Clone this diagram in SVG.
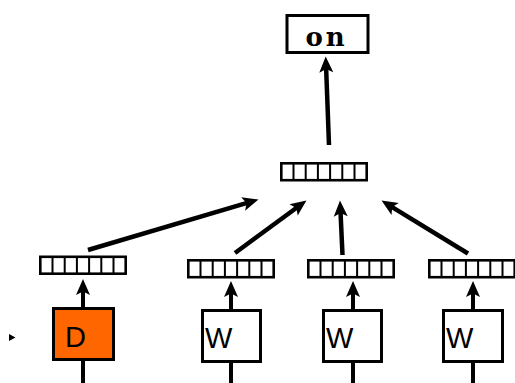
<svg xmlns="http://www.w3.org/2000/svg" xmlns:xlink="http://www.w3.org/1999/xlink" width="515" height="383" viewBox="0 0 515 383">
  <style>
    .box { fill: #ffffff; stroke: #000000; stroke-width: 3; }
    .box.doc { fill: #ff6600; }
    .cell { fill: #ffffff; stroke: #000000; stroke-width: 2.6; }
    .div { stroke: #000000; stroke-width: 2; }
    .edge { fill: none; stroke: #000000; stroke-width: 4.5; marker-end: url(#head); }
    .stub { fill: none; stroke: #000000; stroke-width: 4; }
    .lbl { font-family: "Liberation Sans", Arial, sans-serif; font-size: 29px; fill: #000000; }
    .out { font-family: "DejaVu Serif", serif; font-weight: bold; font-size: 26px; letter-spacing: 3px; fill: #000000; }
  </style>
  <defs>
    <marker id="head" markerUnits="userSpaceOnUse" markerWidth="18" markerHeight="16" viewBox="-1 -8 18 16" refX="5" refY="0" orient="auto">
      <path d="M0,-7 L16,0 L0,7 L3.5,0 Z" fill="#000000"/>
    </marker>
    <!-- seven-cell embedding vector -->
    <g id="vec">
      <rect class="cell" x="1.3" y="1.3" width="85.4" height="16.9"/>
      <line class="div" x1="13.5" y1="1.3" x2="13.5" y2="18.2"/>
      <line class="div" x1="25.7" y1="1.3" x2="25.7" y2="18.2"/>
      <line class="div" x1="37.9" y1="1.3" x2="37.9" y2="18.2"/>
      <line class="div" x1="50.1" y1="1.3" x2="50.1" y2="18.2"/>
      <line class="div" x1="62.3" y1="1.3" x2="62.3" y2="18.2"/>
      <line class="div" x1="74.5" y1="1.3" x2="74.5" y2="18.2"/>
    </g>
  </defs>

  <!-- connectors -->
  <g id="connectors">
    <line class="edge" x1="329" y1="145" x2="326.1" y2="67.5"/>
    <line class="edge" x1="88" y1="250" x2="247.95" y2="202.6"/>
    <line class="edge" x1="235" y1="253" x2="297.6" y2="207"/>
    <line class="edge" x1="342.5" y1="255" x2="340.5" y2="211.5"/>
    <line class="edge" x1="468" y1="253.5" x2="390.9" y2="206.3"/>
    <line class="edge" style="stroke-width:4" x1="83" y1="307" x2="83" y2="290"/>
    <line class="edge" style="stroke-width:4" x1="231" y1="309" x2="231" y2="292"/>
    <line class="edge" style="stroke-width:4" x1="353" y1="309" x2="353" y2="292"/>
    <line class="edge" style="stroke-width:4" x1="473" y1="309" x2="473" y2="292"/>
    <line class="stub" x1="83" y1="361" x2="83" y2="383"/>
    <line class="stub" x1="231" y1="363" x2="231" y2="383"/>
    <line class="stub" x1="353" y1="363" x2="353" y2="383"/>
    <line class="stub" x1="473" y1="363" x2="473" y2="383"/>
  </g>

  <!-- output word -->
  <g id="output">
    <rect class="box" x="287" y="15.5" width="81" height="37"/>
    <text class="out" x="326.5" y="46" text-anchor="middle">on</text>
  </g>

  <!-- combined vector -->
  <g id="combined">
    <use xlink:href="#vec" x="280" y="162"/>
  </g>

  <!-- paragraph vector -->
  <g id="docvec">
    <use xlink:href="#vec" x="39" y="255.5"/>
  </g>
  <g id="docbox">
    <rect class="box doc" x="53.5" y="308.5" width="60" height="51"/>
    <text class="lbl" x="65" y="347">D</text>
  </g>
  <polygon id="pointer" points="9,334 15.5,337.5 9,341" fill="#000000"/>

  <!-- word vectors -->
  <g id="wvec1">
    <use xlink:href="#vec" x="187" y="259"/>
  </g>
  <g id="wbox1">
    <rect class="box" x="202.5" y="310.5" width="58" height="51"/>
    <text class="lbl" x="205" y="348">W</text>
  </g>

  <g id="wvec2">
    <use xlink:href="#vec" x="307" y="259"/>
  </g>
  <g id="wbox2">
    <rect class="box" x="323.5" y="310.5" width="58" height="51"/>
    <text class="lbl" x="326" y="348">W</text>
  </g>

  <g id="wvec3">
    <use xlink:href="#vec" x="428" y="259"/>
  </g>
  <g id="wbox3">
    <rect class="box" x="443.5" y="310.5" width="59" height="51"/>
    <text class="lbl" x="446" y="348">W</text>
  </g>
</svg>
